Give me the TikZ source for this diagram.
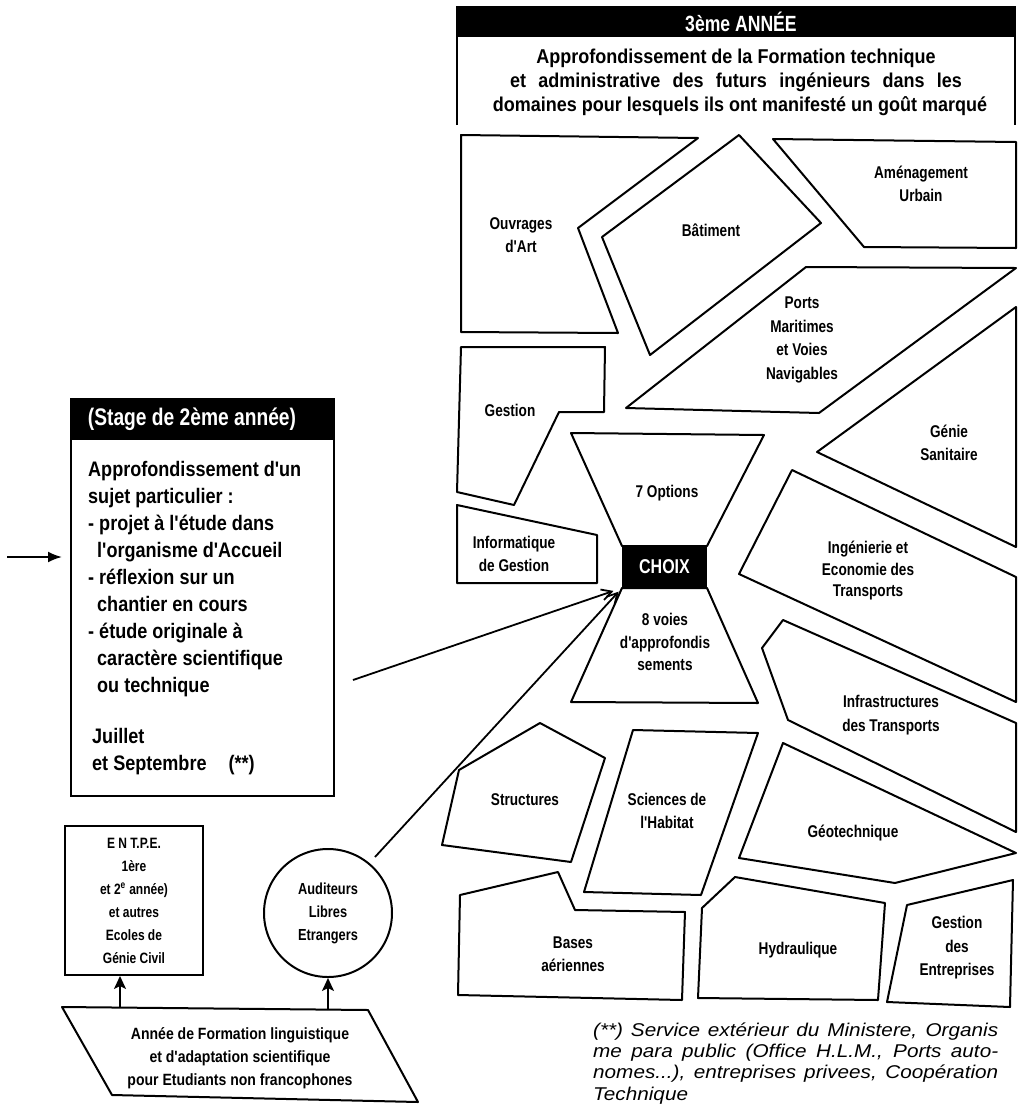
\documentclass[tikz,border=0pt]{standalone}
\usepackage{fontspec}
\setmainfont{Liberation Sans}
\newfontfamily\cond{Liberation Sans}[FakeStretch=0.8]
\newfontfamily\condw{Liberation Sans}[FakeStretch=0.86]
\newfontfamily\condt{Liberation Sans}[FakeStretch=0.9]
\newfontfamily\footf{Liberation Sans}[FakeStretch=1.12]
\usetikzlibrary{arrows.meta}
\begin{document}
\begin{tikzpicture}[x=1pt,y=-1pt,
  shp/.style={draw,line width=2pt,line join=round},
  lab/.style={inner sep=0pt,align=center,font=\cond\bfseries\fontsize{17}{23.5}\selectfont},
  small/.style={inner sep=0pt,align=center,font=\cond\bfseries\fontsize{15}{23}\selectfont},
  hdr/.style={inner sep=0pt,text=white,font=\cond\bfseries\fontsize{22}{24}\selectfont},
  topline/.style={inner sep=0pt,font=\condt\bfseries\fontsize{20}{24}\selectfont},
  barb/.style={line width=1.8pt,-{Straight Barb[length=10pt,width=11pt,line width=1.8pt]}},
  uparr/.style={line width=2pt,-{Stealth[length=13pt,width=12pt,inset=3pt]}},
  fn/.style={anchor=base west,inner sep=0pt,font=\footf\itshape\fontsize{18.5}{20}\selectfont},
]
\useasboundingbox (0,0) rectangle (1031,1104);
\fill[white] (0,0) rectangle (1031,1104);

% ---------- top box (3e annee), open at the bottom
\coordinate (tl) at (457,7);
\coordinate (tr) at (1015,7);
\fill (tl) rectangle ([yshift=-30pt]tr);
\draw[line width=2pt] ([yshift=-118pt]tl) -- (tl) -- (tr) -- ([yshift=-118pt]tr);
\node[hdr] (topH) at (741,22) {3ème ANNÉE};
\node[topline] (top1) at (736,58) {Approfondissement de la Formation technique};
\node[topline] (top2) at (736,82) {\makebox[452pt][s]{et administrative des futurs ingénieurs dans les}};
\node[topline] (top3) at (740,106) {domaines pour lesquels ils ont manifesté un goût marqué};

% ---------- right column shapes
\draw[shp] (461,135) -- (698,138) -- (578,228) -- (618,333) -- (461,332) -- cycle;
\node[lab] (ouv) at (521,235) {Ouvrages\\d'Art};
\draw[shp] (739,135) -- (821,223) -- (650,355) -- (602,237) -- cycle;
\node[lab] (bat) at (711,230) {Bâtiment};
\draw[shp] (773,139) -- (1016,142) -- (1016,248) -- (864,247) -- cycle;
\node[lab] (amen) at (921,184) {Aménagement\\Urbain};
\draw[shp] (806,267) -- (1016,268) -- (819,413) -- (626,408) -- cycle;
\node[lab] (ports) at (802,340) {Ports\\Maritimes\\et Voies\\Navigables};
\draw[shp] (1016,307) -- (817,452) -- (1016,547) -- cycle;
\node[lab] (genie) at (949,443) {Génie\\Sanitaire};
\draw[shp] (461,347) -- (605,347) -- (604,412) -- (559,412) -- (514,505) -- (457,492) -- cycle;
\node[lab] (gest) at (510,410) {Gestion};
\draw[shp] (457,505) -- (597,535) -- (597,583) -- (457,583) -- cycle;
\node[lab] (info) at (514,554) {Informatique\\de Gestion};

\node[fill=black,draw,line width=2pt,minimum width=83pt,minimum height=40pt,anchor=north west,inner sep=0pt,
      text=white,font=\cond\bfseries\fontsize{20}{22}\selectfont] (choix) at (622,546) {CHOIX};
\draw[shp] (571,433) -- (764,435) -- (choix.north east) -- (choix.north west) -- cycle;
\node[lab] (opt) at (667,493) {7 Options};
\draw[shp] (choix.south west) -- (choix.south east) -- (758,703) -- (571,702) -- cycle;
\node[lab,font=\cond\bfseries\fontsize{17}{22.5}\selectfont] (voies) at (665,642) {8 voies\\d'approfondis\\sements};

\draw[shp] (792,470) -- (1016,577) -- (1016,702) -- (739,574) -- cycle;
\node[lab,font=\cond\bfseries\fontsize{17}{21.5}\selectfont] (ing) at (868,571) {Ingénierie et\\Economie des\\Transports};
\draw[shp] (783,620) -- (1016,723) -- (1016,832) -- (788,720) -- (762,648) -- cycle;
\node[lab] (infra) at (891,715) {Infrastructures\\des Transports};
\draw[shp] (783,743) -- (1016,853) -- (895,883) -- (739,858) -- cycle;
\node[lab] (geo) at (853,833) {Géotechnique};
\draw[shp] (540,723) -- (605,758) -- (571,862) -- (442,845) -- (459,770) -- cycle;
\node[lab] (struc) at (525,800) {Structures};
\draw[shp] (633,730) -- (758,733) -- (701,895) -- (584,892) -- cycle;
\node[lab] (habit) at (667,811) {Sciences de\\l'Habitat};
\draw[shp] (460,895) -- (558,872) -- (575,910) -- (685,912) -- (682,1000) -- (458,995) -- cycle;
\node[lab] (bases) at (573,954) {Bases\\aériennes};
\draw[shp] (702,908) -- (735,877) -- (885,903) -- (878,1000) -- (698,998) -- cycle;
\node[lab] (hydro) at (798,950) {Hydraulique};
\draw[shp] (907,905) -- (1013,880) -- (1010,1007) -- (887,1002) -- cycle;
\node[lab] (gent) at (957,948) {Gestion\\des\\Entreprises};

% ---------- stage box (left)
\node[draw,line width=2.2pt,minimum width=263pt,minimum height=397pt,anchor=north west,inner sep=0pt] (stage) at (70,398) {};
\fill (stage.north west) rectangle ([yshift=-42pt]stage.north east);
\node[hdr,font=\cond\bfseries\fontsize{24}{26}\selectfont] (stageH) at (192,419) {(Stage de 2ème année)};
\node[anchor=north west,inner sep=0pt,align=left,font=\condw\bfseries\fontsize{21}{27}\selectfont] (stageT) at (88,461)
  {Approfondissement d'un\\
   sujet particulier :\\
   - projet à l'étude dans\\
   \hspace*{9pt}l'organisme d'Accueil\\
   - réflexion sur un\\
   \hspace*{9pt}chantier en cours\\
   - étude originale à\\
   \hspace*{9pt}caractère scientifique\\
   \hspace*{9pt}ou technique\\[24pt]
   \hspace*{4pt}Juillet\\
   \hspace*{4pt}et Septembre\hspace{22pt}(**)};
\coordinate (inarr) at (7,557);
\draw[line width=2pt,-{Latex[length=14pt,width=11pt]},shorten >=8pt] (inarr) -- (inarr -| stage.west);

% ---------- lower left
\node[draw,line width=2pt,minimum width=138pt,minimum height=149pt,small] (entpe) at (134,900.5)
  {E N T.P.E.\\1ère\\et 2\textsuperscript{e} année)\\et autres\\Ecoles de\\Génie Civil};
\node[draw,circle,line width=2pt,minimum size=128pt,small,font=\cond\bfseries\fontsize{16}{23}\selectfont] (aud) at (328,913) {Auditeurs\\Libres\\Etrangers};
\draw[shp] (62,1007) -- (368,1010) -- (418,1102) -- (112,1095) -- cycle;
\node[small,font=\condw\bfseries\fontsize{16.3}{23}\selectfont] (annee) at (240,1058)
  {Année de Formation linguistique\\et d'adaptation scientifique\\pour Etudiants non francophones};
\coordinate (u1) at (120,1007);
\coordinate (u2) at (328,1010);
\draw[uparr] (u1) -- (u1 |- entpe.south);
\draw[uparr] (u2) -- (aud.south);

% ---------- connectors to CHOIX
\coordinate (s1) at (353,680);
\coordinate (a1) at (375,857);
\draw[barb,shorten >=9pt] (s1) -- (choix.south west);
\draw[barb,shorten >=5pt] (a1) -- (choix.south west);

% ---------- footnote
\node[fn] (fn1) at (593,1036) {\makebox[405pt][s]{(**) Service extérieur du Ministere, Organis}};
\node[fn] (fn2) at (593,1057) {\makebox[405pt][s]{me para public (Office H.L.M., Ports auto-}};
\node[fn] (fn3) at (593,1078) {\makebox[405pt][s]{nomes...), entreprises privees, Coopération}};
\node[fn] (fn4) at (593,1100) {Technique};
\end{tikzpicture}
\end{document}
